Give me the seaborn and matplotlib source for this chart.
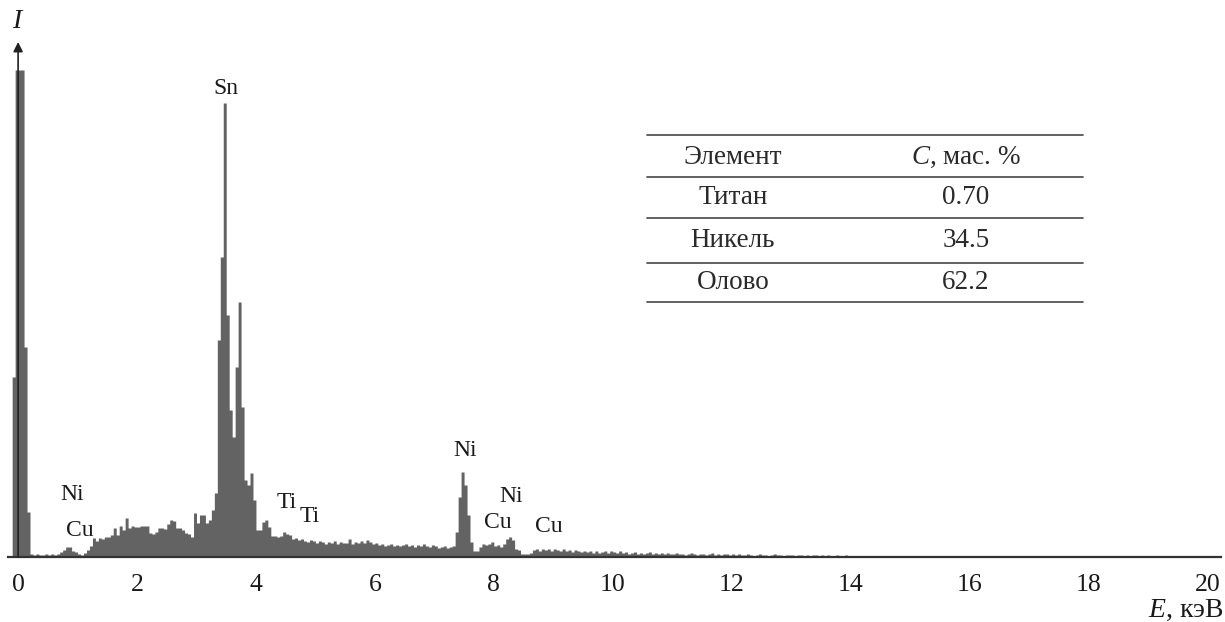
import numpy as np
import pandas as pd
import matplotlib
matplotlib.use("Agg")
import matplotlib.pyplot as plt
import seaborn as sns

# EDX spectrum, 0.05 keV channels starting at -0.10 keV (intensity in arb. units)
counts = [
    180, 487,
    # 0-1 keV
    487, 487, 210, 45, 3, 2, 3, 2, 2, 3, 2, 3, 2, 3, 5, 7, 10, 10, 6, 5,
    # 1-2
    3, 2, 4, 7, 11, 19, 16, 19, 18, 20, 20, 22, 29, 22, 31, 27, 39, 29, 31, 30,
    # 2-3
    30, 31, 31, 31, 24, 23, 25, 29, 29, 28, 33, 37, 36, 29, 29, 27, 24, 23, 20, 44,
    # 3-4
    34, 42, 42, 34, 37, 47, 64, 217, 300, 454, 242, 147, 120, 190, 255, 150, 77, 72, 84, 57,
    # 4-5
    27, 27, 35, 37, 30, 21, 21, 20, 21, 25, 23, 22, 18, 19, 17, 18, 16, 15, 17, 16,
    # 5-6
    14, 16, 15, 13, 15, 14, 16, 13, 15, 14, 14, 18, 13, 15, 14, 16, 14, 17, 15, 13,
    # 6-7
    14, 12, 13, 11, 12, 13, 11, 12, 11, 12, 13, 11, 12, 10, 12, 11, 13, 11, 10, 12,
    # 7-8
    11, 9, 10, 11, 9, 10, 11, 25, 60, 85, 72, 42, 15, 6, 6, 10, 13, 12, 13, 15,
    # 8-9
    11, 12, 10, 13, 18, 20, 17, 8, 7, 3, 3, 3, 4, 7, 8, 6, 8, 7, 8, 6,
    # 9-10
    8, 7, 6, 8, 6, 7, 5, 7, 6, 5, 6, 5, 6, 4, 6, 4, 5, 6, 4, 6,
    # 10-11
    5, 4, 6, 4, 5, 3, 4, 5, 3, 4, 3, 4, 5, 3, 4, 3, 4, 3, 4, 3,
    # 11-12
    3, 4, 3, 3, 2, 3, 4, 3, 2, 3, 3, 2, 3, 4, 2, 3, 2, 3, 3, 2,
    # 12-13
    3, 2, 3, 2, 2, 3, 2, 1, 2, 3, 2, 2, 1, 2, 3, 2, 2, 1, 2, 2,
    # 13-14
    2, 1, 2, 2, 1, 2, 1, 2, 2, 1, 2, 1, 2, 1, 1, 2, 1, 1, 2, 1,
    # 14-14.5
    1, 0, 1, 1, 0, 1, 1, 0, 1, 0,
]
e_start, e_step = -0.10, 0.05

peak_labels = ["Sn", "Ni", "Cu", "Ti", "Ti", "Ni", "Ni", "Cu", "Cu"]
peak_x = [3.50, 0.91, 1.04, 4.51, 4.91, 7.52, 8.29, 8.06, 8.93]
peak_y = [469, 62, 27, 54, 40, 107, 60, 35, 31]

table_elements = ["Титан", "Никель", "Олово"]
table_conc = ["0.70", "34.5", "62.2"]

xticks = [0, 2, 4, 6, 8, 10, 12, 14, 16, 18, 20]

sns.set_style("white")
plt.rcParams["font.family"] = ["Liberation Serif", "DejaVu Serif"]
plt.rcParams["mathtext.fontset"] = "custom"
plt.rcParams["mathtext.rm"] = "Liberation Serif"
plt.rcParams["mathtext.it"] = "Liberation Serif:italic"

n = len(counts)
df = pd.DataFrame({"E": e_start + e_step * (np.arange(n) + 0.5), "I": counts})

W, H = 1225, 622
fig = plt.figure(figsize=(W / 100, H / 100), dpi=100)
ax = fig.add_axes([8 / W, (H - 557) / H, (1221 - 8) / W, (557 - 42) / H])

sns.histplot(data=df, x="E", weights="I", binwidth=e_step,
             binrange=(e_start, e_start + e_step * n), element="step", fill=True,
             color="#636363", alpha=1, linewidth=0, ax=ax)

ax.set_xlim(-0.17, 20.23)
ax.set_ylim(0, 515)
ax.set_xlabel("")
ax.set_ylabel("")
ax.set_yticks([])
ax.set_xticks(xticks)
ax.set_xticklabels([str(t) for t in xticks])
for s in ["left", "top", "right"]:
    ax.spines[s].set_visible(False)
ax.spines["bottom"].set_color("#333333")
ax.spines["bottom"].set_linewidth(1.6)
ax.tick_params(axis="x", direction="in", length=8, width=1.3, colors="#333333",
               labelsize=18.5, labelcolor="#1a1a1a", pad=12)

ax.annotate("", xy=(0, 515), xytext=(0, 0), annotation_clip=False,
            arrowprops=dict(arrowstyle="-|>", color="#222222", lw=1.2,
                            mutation_scale=14, shrinkA=0, shrinkB=0))

for lab, x, y in zip(peak_labels, peak_x, peak_y):
    ax.text(x, y, lab, ha="center", va="center", fontsize=17, color="#1a1a1a")

fig.text(18 / W, 1 - 22 / H, "$I$", ha="center", va="center", fontsize=20, color="#1a1a1a")
fig.text(1224 / W, 1 - 610 / H, "$E$, кэВ", ha="right", va="center", fontsize=20,
         color="#1a1a1a")

# composition table
line_y = [135, 177, 218, 263, 302]
x0, x1 = 647 / W, 1083 / W
for ly in line_y:
    fig.add_artist(plt.Line2D([x0, x1], [1 - ly / H, 1 - ly / H], color="#555555", lw=1.3))
col1, col2 = 733 / W, 966 / W
fig.text(col1, 1 - 157 / H, "Элемент", ha="center", va="center", fontsize=19.5, color="#2a2a2a")
fig.text(col2, 1 - 157 / H, "$C$, мас. %", ha="center", va="center", fontsize=19.5,
         color="#2a2a2a")
for i, (el, c) in enumerate(zip(table_elements, table_conc)):
    yc = (line_y[i + 1] + line_y[i + 2]) / 2
    fig.text(col1, 1 - yc / H, el, ha="center", va="center", fontsize=19.5, color="#2a2a2a")
    fig.text(col2, 1 - yc / H, c, ha="center", va="center", fontsize=19.5, color="#2a2a2a")

fig.savefig("out.png", dpi=100)
